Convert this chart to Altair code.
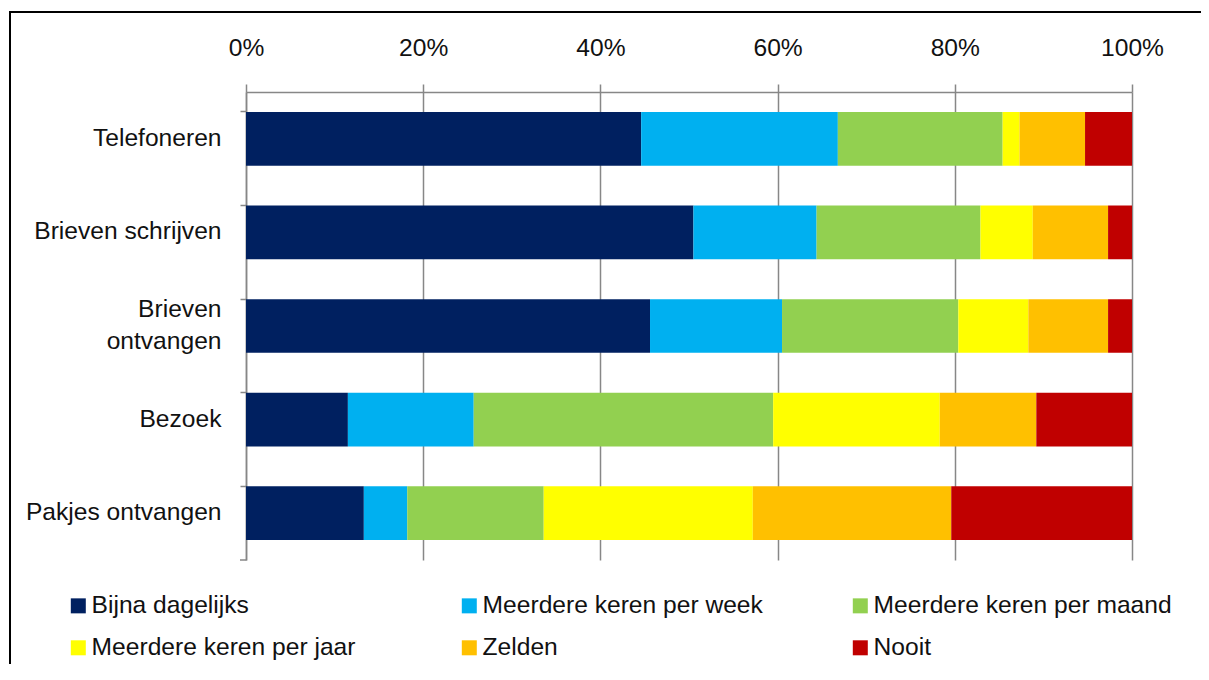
import altair as alt
import pandas as pd

categories = ["Telefoneren", "Brieven schrijven", "Brieven ontvangen", "Bezoek", "Pakjes ontvangen"]
series = ["Bijna dagelijks", "Meerdere keren per week", "Meerdere keren per maand",
          "Meerdere keren per jaar", "Zelden", "Nooit"]
colors = ["#002060", "#00B0F0", "#92D050", "#FFFF00", "#FFC000", "#C00000"]

bijna_dagelijks = [44.6, 50.5, 45.6, 11.5, 13.3]
per_week = [22.2, 13.9, 14.9, 14.2, 4.9]
per_maand = [18.6, 18.5, 19.9, 33.8, 15.4]
per_jaar = [1.9, 5.9, 7.9, 18.8, 23.6]
zelden = [7.4, 8.5, 9.0, 10.9, 22.4]
nooit = [5.3, 2.7, 2.7, 10.8, 20.4]
tick_values = [0, 20, 40, 60, 80, 100]

values = [bijna_dagelijks, per_week, per_maand, per_jaar, zelden, nooit]
rows = []
for si, (s, vals) in enumerate(zip(series, values)):
    for c, v in zip(categories, vals):
        rows.append({"categorie": c, "reeks": s, "waarde": v, "volgorde": si})
df = pd.DataFrame(rows)

FONT = "Liberation Sans"
GRAY = "#878787"
FS = 24.6

bars = alt.Chart(df).mark_bar().encode(
    y=alt.Y(
        "categorie:N",
        sort=categories,
        scale=alt.Scale(paddingInner=0.426, paddingOuter=0.213),
        axis=alt.Axis(
            title=None, bandPosition=0, tickSize=6, labelPadding=19,
            domainColor=GRAY, tickColor=GRAY, domainWidth=1.5, tickWidth=1.5,
            labelFontSize=FS, labelLineHeight=32, labelLimit=400, labelColor="#111111",
            labelExpr="datum.label == 'Brieven ontvangen' ? ['Brieven', 'ontvangen'] : datum.label",
            labelOffset={"condition": {"test": "datum.value == 'Brieven ontvangen'", "value": -16}, "value": 0},
            grid=False,
        ),
    ),
    x=alt.X(
        "waarde:Q",
        stack="zero",
        scale=alt.Scale(domain=[0, 100], nice=False),
        axis=alt.Axis(
            orient="top", values=tick_values, labelExpr="datum.value + '%'", title=None,
            tickSize=8, labelPadding=24, grid=True, gridColor=GRAY, gridWidth=1.5,
            domainColor=GRAY, tickColor=GRAY, domainWidth=1.5, tickWidth=1.5,
            labelFontSize=FS, labelFlush=False, labelColor="#111111",
        ),
    ),
    color=alt.Color(
        "reeks:N",
        sort=series,
        scale=alt.Scale(domain=series, range=colors),
        legend=alt.Legend(
            title=None, orient="none", legendX=-180, legendY=501.5, columns=3,
            direction="horizontal",
            gridAlign="all", columnPadding=67, rowPadding=17, symbolType="square",
            symbolSize=225, symbolStrokeWidth=0, labelFontSize=FS, labelOffset=1,
            padding=0, labelLimit=400, labelColor="#111111",
        ),
    ),
    order=alt.Order("volgorde:Q", sort="ascending"),
)

left_line = alt.Chart(pd.DataFrame({"k": [0]})).mark_rule(
    color="#000000", strokeWidth=2
).encode(x=alt.value(-236), y=alt.value(-80), y2=alt.value(700))

top_line = alt.Chart(pd.DataFrame({"k": [0]})).mark_rule(
    color="#000000", strokeWidth=2
).encode(x=alt.value(-237), x2=alt.value(955), y=alt.value(-80))

bottom_tick = alt.Chart(pd.DataFrame({"k": [0]})).mark_rule(
    color=GRAY, strokeWidth=1.5
).encode(x=alt.value(-6), x2=alt.value(0), y=alt.value(468))

chart = alt.layer(bars, left_line, top_line, bottom_tick).properties(
    width=886, height=468,
    padding={"left": 238, "top": 84, "right": 69, "bottom": 104},
    autosize="none",
).configure(font=FONT).configure_view(stroke=None)

chart.save("out.html", embed_options={"renderer": "svg", "actions": False})
